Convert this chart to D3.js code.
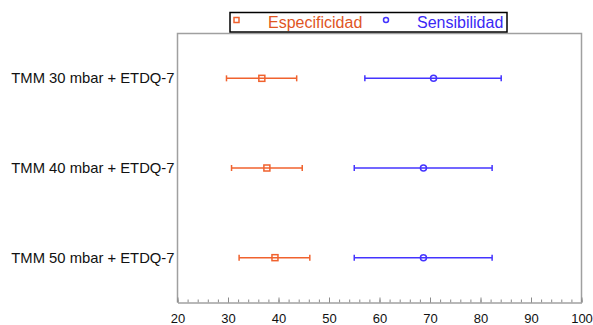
<!DOCTYPE html>
<html>
<head>
<meta charset="utf-8">
<script src="https://cdn.jsdelivr.net/npm/d3@7"></script>
<style>
  body { margin: 0; background: #fff; }
  svg { display: block; font-family: "Liberation Sans", Arial, sans-serif; }
</style>
</head>
<body>
<svg id="chart" width="593" height="325"></svg>
<script>
// data
const groups = ["TMM 30 mbar + ETDQ-7", "TMM 40 mbar + ETDQ-7", "TMM 50 mbar + ETDQ-7"];
const espMid = [36.7, 37.7, 39.3];
const espLow = [29.7, 30.7, 32.2];
const espHigh = [43.6, 44.7, 46.2];
const senMid = [70.7, 68.7, 68.7];
const senLow = [57.1, 55.0, 55.0];
const senHigh = [84.1, 82.3, 82.3];
const xTicks = [20, 30, 40, 50, 60, 70, 80, 90, 100];

const svg = d3.select("#chart");
const margin = {left: 177.5, right: 11.5, top: 33.5, bottom: 22.5};
const width = 593, height = 325;

const x = d3.scaleLinear().domain([20, 100]).range([margin.left, width - margin.right]);
const y = d3.scaleBand().domain(groups).range([margin.top, height - margin.bottom]);

const series = [
  {name: "Especificidad", mid: espMid, low: espLow, high: espHigh, color: "#f0622e", text: "#e0561f", shape: "square"},
  {name: "Sensibilidad", mid: senMid, low: senLow, high: senHigh, color: "#4434ff", text: "#3a28f5", shape: "circle"}
];

// frame (left, top, right)
svg.append("path")
  .attr("d", `M${x(20)},${y.range()[1]}V${margin.top}H${x(100)}V${y.range()[1]}`)
  .attr("fill", "none")
  .attr("stroke", "#a0a0a0")
  .attr("stroke-width", 1.5);

// bottom axis: minor ticks then major ticks, pointing inward
const axisY = y.range()[1];
const minor = svg.append("g")
  .attr("transform", `translate(0,${axisY})`)
  .call(d3.axisBottom(x).tickValues(d3.range(20, 101, 2)).tickSize(-3).tickFormat(""));
minor.select(".domain").remove();
minor.selectAll("line").attr("stroke", "#8a8a8a");

const major = svg.append("g")
  .attr("transform", `translate(0,${axisY})`)
  .call(d3.axisBottom(x).tickValues(xTicks).tickSizeInner(-5).tickSizeOuter(0).tickPadding(11));
major.select(".domain").attr("stroke", "#a0a0a0").attr("stroke-width", 1.5);
major.selectAll(".tick line").attr("stroke", "#8a8a8a");
major.selectAll("text").attr("font-size", 13).attr("fill", "#111")
  .attr("font-family", "Liberation Sans, Arial, sans-serif");

// category labels
svg.append("g").selectAll("text")
  .data(groups)
  .join("text")
  .attr("x", margin.left - 3)
  .attr("y", d => y(d) + y.bandwidth() / 2)
  .attr("text-anchor", "end")
  .attr("dominant-baseline", "central")
  .attr("font-size", 14.8)
  .attr("fill", "#111")
  .text(d => d);

// error bars
series.forEach(s => {
  const g = svg.append("g");
  groups.forEach((gr, i) => {
    const cy = y(gr) + y.bandwidth() / 2;
    g.append("line")
      .attr("x1", x(s.low[i])).attr("x2", x(s.high[i]))
      .attr("y1", cy).attr("y2", cy)
      .attr("stroke", s.color).attr("stroke-width", 1.5);
    [s.low[i], s.high[i]].forEach(v => {
      g.append("line")
        .attr("x1", x(v)).attr("x2", x(v))
        .attr("y1", cy - 3).attr("y2", cy + 3)
        .attr("stroke", s.color).attr("stroke-width", 1.5);
    });
    if (s.shape === "square") {
      g.append("rect")
        .attr("x", x(s.mid[i]) - 3).attr("y", cy - 3)
        .attr("width", 6).attr("height", 6)
        .attr("fill", "none").attr("stroke", s.color).attr("stroke-width", 1.5);
    } else {
      g.append("circle")
        .attr("cx", x(s.mid[i])).attr("cy", cy).attr("r", 3)
        .attr("fill", "none").attr("stroke", s.color).attr("stroke-width", 1.5);
    }
  });
});

// legend
const legend = svg.append("g");
legend.append("rect")
  .attr("x", 230).attr("y", 12.5)
  .attr("width", 277).attr("height", 19.5)
  .attr("fill", "#fff").attr("stroke", "#000").attr("stroke-width", 1.5);

const legendItems = [
  {s: series[0], mx: 236.5, tx: 268},
  {s: series[1], mx: 386, tx: 417}
];
legendItems.forEach(d => {
  if (d.s.shape === "square") {
    legend.append("rect")
      .attr("x", d.mx - 2.5).attr("y", 17.5).attr("width", 5).attr("height", 5)
      .attr("fill", "none").attr("stroke", d.s.color).attr("stroke-width", 1.5);
  } else {
    legend.append("circle")
      .attr("cx", d.mx).attr("cy", 20).attr("r", 2.5)
      .attr("fill", "none").attr("stroke", d.s.color).attr("stroke-width", 1.5);
  }
  legend.append("text")
    .attr("x", d.tx).attr("y", 28)
    .attr("font-size", 16)
    .attr("fill", d.s.text)
    .text(d.s.name);
});
</script>
</body>
</html>
